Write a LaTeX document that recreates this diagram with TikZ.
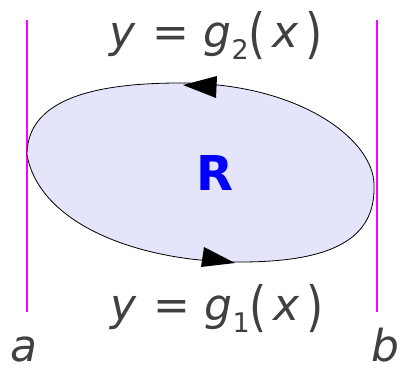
\documentclass[tikz,border=0pt]{standalone}
\usepackage{fontspec}
\usepackage{graphicx}
\setmainfont{DejaVu Sans}
\usetikzlibrary{positioning}
\definecolor{regionfill}{RGB}{228,228,250}
\definecolor{labelgray}{RGB}{64,64,64}
\definecolor{boundpink}{RGB}{255,0,255}
\newcommand{\lowsub}[1]{\raisebox{-12pt}{\fontsize{27}{28}\selectfont #1}}
\newcommand{\tallparen}[1]{\raisebox{-5pt}{\scalebox{1}[1.23]{#1}}}
\newcommand{\curveeq}[1]{\textit{y}\hspace{17pt}=\hspace{14pt}\textit{g}\lowsub{#1}\tallparen{(}\hspace{6pt}\textit{x}\hspace{7pt}\tallparen{)}}

\begin{document}
\begin{tikzpicture}[
    x=1pt, y=-1pt,
    bound/.style={draw=boundpink, line width=1.3pt},
    region/.style={draw=black, line width=0.8pt, fill=regionfill},
    tipfill/.style={fill=black},
    curvelabel/.style={font=\fontsize{44}{50}\selectfont, text=labelgray, inner sep=0pt, anchor=base},
    endlabel/.style={font=\fontsize{44}{50}\selectfont\itshape, text=labelgray, inner sep=0pt, anchor=base},
    regionlabel/.style={font=\fontsize{48}{50}\selectfont\bfseries, text=blue, inner sep=0pt},
]
\useasboundingbox (0,0) rectangle (402,369);

% the two bounding lines x=a and x=b
\draw[bound] (27,20) -- (27,312);
\draw[bound] (377,20) -- (377,312);

% the region
\draw[region] (27,155) .. controls (40,225) and (140,262) .. (240,262)
    .. controls (330,262) and (376,240) .. (374,185)
    .. controls (374,140) and (300,83) .. (180,83)
    .. controls (70,83) and (27,110) .. cycle;

% orientation tips
\fill[tipfill] (183,85) -- (217,76) -- (216,98) -- cycle;
\fill[tipfill] (235,263) -- (204,247) -- (201,267) -- cycle;

\node[curvelabel] (gtop) at (216,48) {\curveeq{2}};
\node[curvelabel] (gbot) at (217,320) {\curveeq{1}};
\node[regionlabel] (reg) at (215,173) {R};
\node[endlabel] (lefta) at (24,361) {a};
\node[endlabel] (rightb) at (385,361) {b};
\end{tikzpicture}
\end{document}
